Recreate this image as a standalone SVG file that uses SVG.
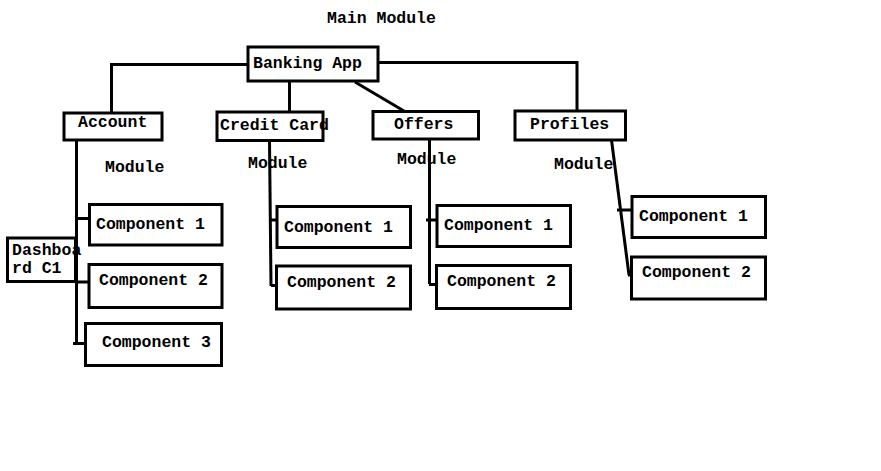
<svg xmlns="http://www.w3.org/2000/svg" width="881" height="471" viewBox="0 0 881 471">
<style>
.box{fill:#fff;stroke:#000;stroke-width:3}
.ln{fill:none;stroke:#000;stroke-width:3}
text{font-family:"Liberation Mono","Courier New",monospace;font-size:16.5px;fill:#000;font-weight:bold}
</style>
<rect width="881" height="471" fill="#fff"/>
<text x="327" y="23">Main Module</text>
<g id="connectors">
<path class="ln" d="M248 64.5H111.5V113"/>
<path class="ln" d="M289.5 81V115"/>
<path class="ln" d="M355 82L404 111"/>
<path class="ln" d="M378 62.5H577V115"/>
<path class="ln" d="M76.5 140V344"/>
<path class="ln" d="M76 218.5H90M76 282H91M73 343.5H85"/>
<path class="ln" d="M269.5 141L271 286"/>
<path class="ln" d="M270 220H277M271 285.5H277"/>
<path class="ln" d="M429.5 139V284"/>
<path class="ln" d="M426 220H437M429 284.5H437"/>
<path class="ln" d="M611.5 140L629 275"/>
<path class="ln" d="M617 210H632M628 275H632"/>
</g>
<g id="banking"><rect class="box" x="248" y="47" width="130" height="34"/><text x="253" y="68">Banking App</text></g>
<g id="account"><rect class="box" x="64" y="113" width="98" height="27"/><text x="78" y="127">Account</text></g>
<g id="creditcard"><rect class="box" x="217" y="112" width="106" height="28.5"/><text x="220" y="130">Credit Card</text></g>
<g id="offers"><rect class="box" x="373" y="111.5" width="105.5" height="27.5"/><text x="394" y="129">Offers</text></g>
<g id="profiles"><rect class="box" x="515" y="111" width="110.5" height="29"/><text x="530" y="129">Profiles</text></g>
<text x="105" y="172">Module</text>
<text x="248" y="168">Module</text>
<text x="397" y="164">Module</text>
<text x="554" y="169">Module</text>
<g id="dashboard"><rect class="box" x="7.5" y="238" width="68" height="43.5"/><text x="12" y="255">Dashboa</text><text x="12" y="273">rd C1</text></g>
<g id="acc-c1"><rect class="box" x="89.5" y="204.5" width="132.5" height="40.5"/><text x="96" y="229">Component 1</text></g>
<g id="acc-c2"><rect class="box" x="89" y="264.5" width="133" height="43"/><text x="99" y="285">Component 2</text></g>
<g id="acc-c3"><rect class="box" x="85.5" y="323.5" width="136" height="42"/><text x="102" y="347">Component 3</text></g>
<g id="cc-c1"><rect class="box" x="277" y="206.5" width="133.5" height="41"/><text x="284" y="231.5">Component 1</text></g>
<g id="cc-c2"><rect class="box" x="276.5" y="266" width="134" height="43"/><text x="287" y="287">Component 2</text></g>
<g id="of-c1"><rect class="box" x="437" y="205.5" width="133.5" height="41"/><text x="444" y="229.5">Component 1</text></g>
<g id="of-c2"><rect class="box" x="436.5" y="265.5" width="134" height="43"/><text x="447" y="286">Component 2</text></g>
<g id="pr-c1"><rect class="box" x="632" y="196.5" width="133.5" height="41"/><text x="639" y="221">Component 1</text></g>
<g id="pr-c2"><rect class="box" x="631.5" y="257" width="134" height="42"/><text x="642" y="277">Component 2</text></g>
</svg>
